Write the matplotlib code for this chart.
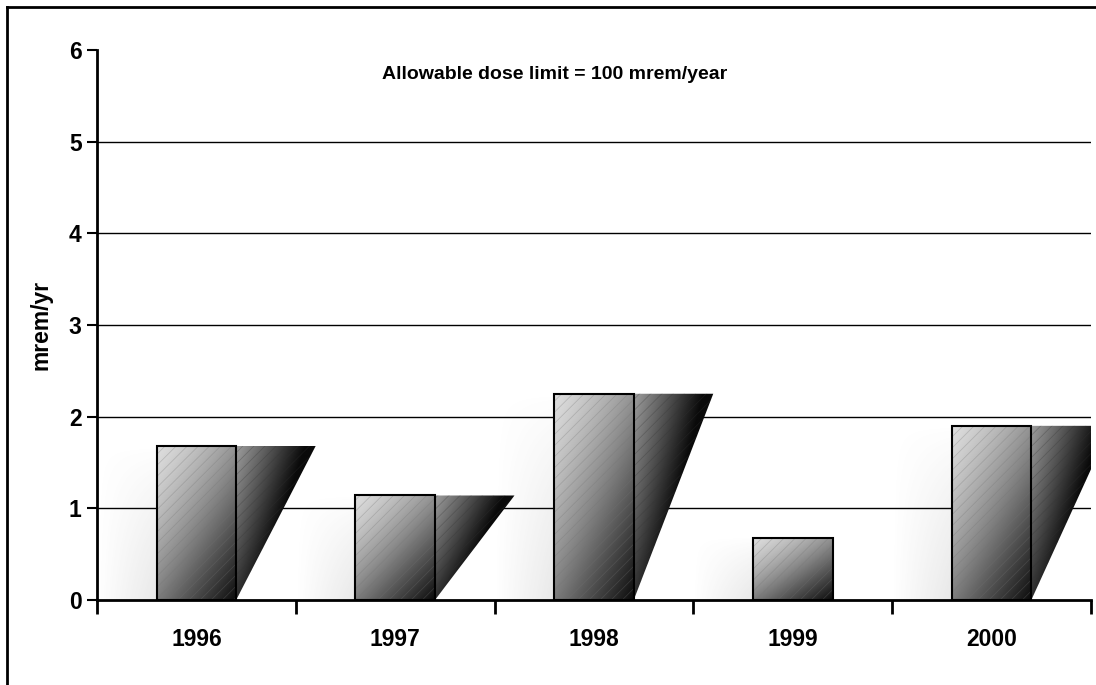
import numpy as np
import matplotlib
matplotlib.use("Agg")
import matplotlib.pyplot as plt
from matplotlib.patches import Rectangle, Polygon
from matplotlib.lines import Line2D

# 每年的剂量数据 (mrem/yr)
years = ["1996", "1997", "1998", "1999", "2000"]
doses = [1.68, 1.14, 2.25, 0.68, 1.90]
# 1999 年没有右侧的阴影
has_shadow = [True, True, True, False, True]
y_ticks = [0, 1, 2, 3, 4, 5, 6]
note = "Allowable dose limit = 100 mrem/year"

plt.rcParams['font.family'] = ['Liberation Sans', 'DejaVu Sans']
plt.rcParams['font.weight'] = 'bold'
plt.rcParams['hatch.linewidth'] = 0.6


def gradient(ax, x0, x1, y0, y1, lo, hi, kx, ky, p, clip):
    # 从左上(浅)到右下(深)的灰度渐变
    u = np.linspace(0, 1, 200)
    X, Y = np.meshgrid(u, u)
    t = np.clip(X * kx + Y * ky, 0, 1) ** p
    g = hi + (lo - hi) * t
    im = ax.imshow(g, extent=(x0, x1, y0, y1), origin='upper', cmap='gray',
                   vmin=0, vmax=1, aspect='auto', zorder=2, interpolation='bilinear')
    im.set_clip_path(clip)


def haze(ax, x0, x1, y0, y1):
    u = np.linspace(0, 1, 100)
    X, Y = np.meshgrid(u, u)
    a = np.clip(X * (Y ** 0.8), 0, 1) * 0.14
    rgba = np.zeros((100, 100, 4))
    rgba[..., :3] = 0.35
    rgba[..., 3] = a
    ax.imshow(rgba, extent=(x0, x1, y0, y1), origin='upper', aspect='auto',
              zorder=1.5, interpolation='bilinear')


fig = plt.figure(figsize=(10.96, 6.85), dpi=100)
ax = fig.add_axes([0.0885, 0.1241, 0.9069, 0.8029])

w = 0.4
for i, h in enumerate(doses):
    left = i + 0.5 - w / 2
    right = i + 0.5 + w / 2

    haze(ax, left - 0.3, left, 0, h)

    # 柱子本体
    bar = Rectangle((left, 0), w, h, facecolor='none', edgecolor='none')
    ax.add_patch(bar)
    gradient(ax, left, right, 0, h, 0.04, 0.87, 0.45, 0.55, 1.3, bar)
    ax.add_patch(Rectangle((left, 0), w, h, facecolor='none', edgecolor=(0.45, 0.45, 0.45, 0.3),
                           hatch='///', lw=0, zorder=3))
    ax.add_patch(Rectangle((left, 0), w, h, facecolor='none', edgecolor='black', lw=1.5, zorder=4))

    # 右边的三角阴影
    if has_shadow[i]:
        pts = [(right, h), (right + w, h), (right, 0)]
        tri = Polygon(pts, closed=True, facecolor='none', edgecolor='none')
        ax.add_patch(tri)
        gradient(ax, right, right + w, 0, h, 0.04, 0.62, 1.15, 0.75, 1.0, tri)
        ax.add_patch(Polygon(pts, closed=True, facecolor='none',
                             edgecolor=(0.2, 0.2, 0.2, 0.3),
                             hatch='///', lw=0, zorder=3))

ax.set_xlim(0, len(years))
ax.set_ylim(0, 6)

# 网格线
for y in y_ticks[1:-1]:
    ax.axhline(y, color='black', lw=1, zorder=1)

ax.set_yticks(y_ticks)
ax.set_yticklabels([str(t) for t in y_ticks], fontsize=16.5, fontweight='bold')
ax.set_xticks(range(len(years) + 1))
ax.set_xticklabels([])
ax.set_xticks([i + 0.5 for i in range(len(years))], minor=True)
ax.set_xticklabels(years, minor=True, fontsize=16.5, fontweight='bold')
ax.tick_params(axis='x', which='major', length=10, width=2, direction='out')
ax.tick_params(axis='x', which='minor', length=0, pad=20)
ax.tick_params(axis='y', length=7, width=1.5, direction='out', pad=4)

for s in ['top', 'right']:
    ax.spines[s].set_visible(False)
ax.spines['left'].set_linewidth(2)
ax.spines['bottom'].set_linewidth(2)
ax.spines['bottom'].set_zorder(5)

ax.set_ylabel("mrem/yr", fontsize=16.5, fontweight='bold', labelpad=12)
ax.text(0.46, 0.955, note, transform=ax.transAxes, ha='center', va='center',
        fontsize=14, fontweight='bold')

# 外框 (只看到左边和上边)
fig.add_artist(Line2D([7 / 1096, 7 / 1096], [0, 1 - 7 / 685], color='black', lw=2))
fig.add_artist(Line2D([7 / 1096, 1], [1 - 7 / 685, 1 - 7 / 685], color='black', lw=2))

fig.savefig("out.png", dpi=100)
